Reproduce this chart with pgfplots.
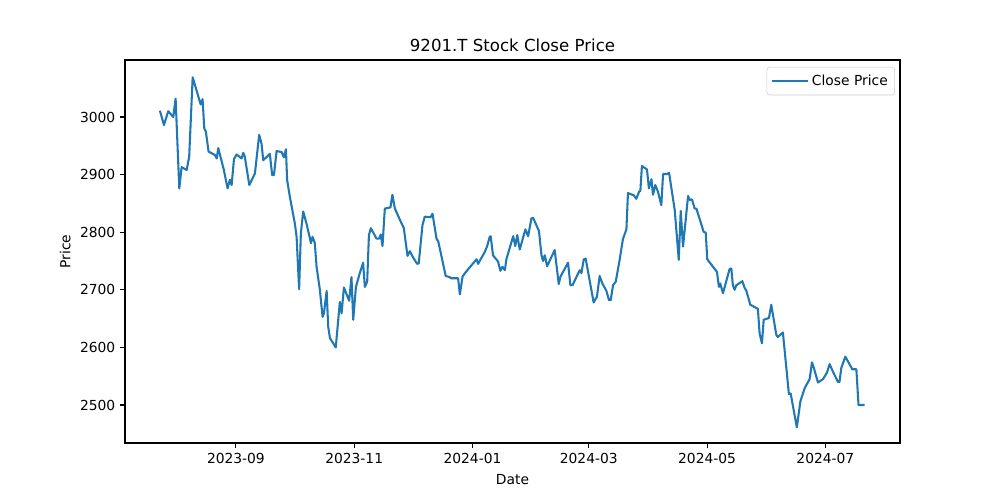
\documentclass[border=0pt]{standalone}
\usepackage{fontspec}
\setmainfont{DejaVu Sans}
\usepackage{pgfplots}
\pgfplotsset{compat=1.18}
\definecolor{mplblue}{HTML}{1F77B4}
\pgfplotstableread{
day price
-39.2 3011
-37.1 2986
-34.9 3010
-32.3 3000
-31.1 3032
-29.2 2876
-28.0 2913
-25.4 2908
-24.1 2931
-22.3 3069
-18.2 3022
-17.2 3031
-16.3 2980
-15.5 2975
-14.1 2940
-10.8 2934
-9.9 2928
-9.1 2946
-6.2 2908
-4.3 2876
-3.1 2891
-2.2 2882
-1.0 2927
0.4 2935
2.9 2928
3.8 2938
4.6 2931
6.9 2882
9.8 2902
12.0 2969
13.2 2954
14.1 2925
17.5 2936
18.7 2899
19.6 2899
21.0 2941
23.6 2939
24.7 2930
25.8 2944
26.4 2891
27.8 2862
30.4 2815
31.3 2792
32.6 2701
33.5 2798
34.7 2836
36.4 2815
37.8 2795
38.7 2781
39.5 2792
40.7 2781
41.6 2740
43.3 2700
44.7 2653
45.4 2659
46.8 2698
47.6 2636
48.5 2616
50.2 2607
51.5 2600
53.6 2679
54.5 2659
55.7 2704
58.4 2681
59.6 2722
60.5 2648
61.9 2705
63.9 2729
65.6 2747
66.5 2705
67.7 2714
68.6 2795
69.6 2807
72.5 2789
73.9 2789
74.7 2796
75.6 2776
76.8 2841
79.7 2843
80.7 2865
82.0 2841
84.5 2822
86.6 2807
88.5 2759
89.7 2767
91.4 2756
93.5 2745
94.3 2746
96.2 2812
97.4 2827
100.4 2826
101.4 2832
103.5 2788
104.3 2785
108.2 2724
110.3 2722
110.8 2720
114.6 2720
115.5 2692
116.9 2723
118.6 2731
124.1 2753
124.9 2745
128.4 2766
129.5 2775
130.9 2792
131.4 2793
132.6 2760
135.2 2749
136.4 2733
137.5 2740
138.7 2734
139.5 2753
143.0 2793
144.1 2776
145.1 2795
146.4 2770
149.3 2805
150.7 2793
152.4 2824
153.3 2825
156.3 2802
157.6 2760
158.4 2750
159.3 2760
160.5 2741
164.4 2769
166.5 2710
167.4 2723
171.3 2747
172.5 2708
173.6 2708
177.3 2734
178.2 2729
179.4 2753
180.4 2754
184.5 2678
186.2 2688
187.6 2724
189.0 2711
191.1 2698
192.4 2682
193.3 2682
194.5 2708
195.9 2714
197.9 2752
199.6 2788
201.4 2805
202.2 2868
205.2 2864
206.5 2858
207.9 2870
208.6 2872
209.4 2915
212.0 2909
213.0 2876
214.3 2892
215.1 2865
216.3 2882
217.7 2870
219.4 2847
220.3 2901
222.3 2901
223.4 2903
226.3 2839
228.4 2752
229.4 2837
230.6 2775
233.2 2863
234.0 2856
235.2 2857
236.6 2841
237.5 2841
241.2 2801
242.3 2799
243.1 2753
248.1 2731
249.1 2705
249.8 2711
251.2 2694
254.6 2736
255.5 2737
256.3 2708
257.2 2700
258.1 2708
261.2 2715
262.4 2703
263.2 2699
265.3 2674
269.2 2667
270.1 2624
271.3 2607
272.2 2648
274.9 2651
276.1 2674
278.7 2622
279.5 2618
282.1 2626
285.2 2519
286.1 2520
289.3 2461
291.1 2506
293.3 2529
295.9 2545
297.1 2574
298.1 2564
300.2 2539
302.8 2545
304.8 2556
306.2 2571
307.9 2558
310.5 2540
311.3 2540
312.2 2564
314.3 2584
317.9 2562
320.0 2562
321.1 2500
324.2 2500
}\closedata
\begin{document}
\begin{tikzpicture}
\path[use as bounding box] (0,0) rectangle (10in,5in);
\begin{axis}[
  at={(1.25in,0.57in)}, anchor=south west,
  scale only axis, width=7.75in, height=3.83in,
  xmin=-57.2, xmax=342.5, ymin=2434, ymax=3099,
  xtick={0,61,122,182,243,304},
  xticklabels={2023-09,2023-11,2024-01,2024-03,2024-05,2024-07},
  ytick={2500,2600,2700,2800,2900,3000},
  /pgf/number format/assume math mode=true,
  /pgf/number format/1000 sep={},
  tick align=outside, xtick pos=lower, ytick pos=left,
  major tick length=3.5pt,
  every tick/.style={black, line width=0.8pt},
  axis line style={line width=0.8pt},
  ticklabel style={font=\fontsize{10}{12}\selectfont},
  title={9201.T Stock Close Price},
  title style={font=\fontsize{12}{14}\selectfont, yshift=-3.5pt},
  xlabel={Date}, ylabel={Price},
  label style={font=\fontsize{10}{12}\selectfont},
  xlabel style={yshift=-1.5pt},
  legend style={at={(0.9935,0.982)}, anchor=north east, draw=black!20, rounded corners=2pt,
    font=\fontsize{10}{12}\selectfont, inner xsep=3pt, inner ysep=3.5pt, row sep=0pt},
  legend cell align=left,
  legend image code/.code={\draw[#1, line width=1.5pt] (0pt,0pt) -- (20pt,0pt); \path (0pt,0pt) -- (26pt,0pt);},
]
\addplot[mplblue, line width=1.5pt, line join=round] table[x=day, y=price] {\closedata};
\addlegendentry{Close Price}
\end{axis}
\end{tikzpicture}
\end{document}
